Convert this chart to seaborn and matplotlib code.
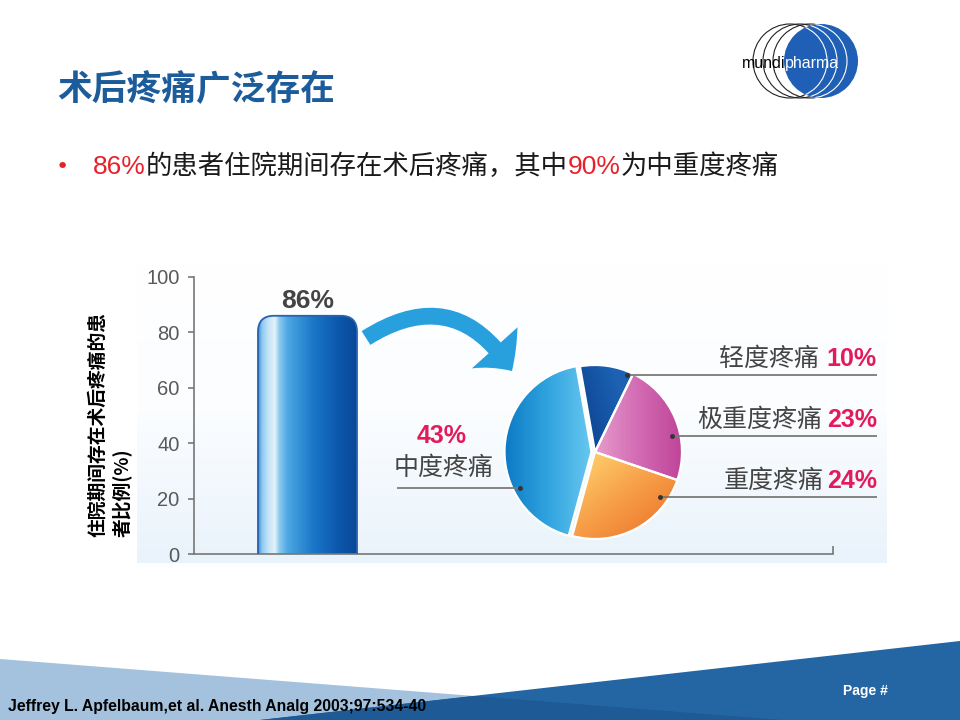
import numpy as np
import seaborn as sns
import matplotlib.pyplot as plt
from matplotlib import font_manager
from matplotlib.colors import LinearSegmentedColormap
from matplotlib.patches import FancyBboxPatch, Polygon, Circle, FancyArrowPatch
from matplotlib.transforms import Affine2D

W, H = 960, 720

# data
bar_cats = ['术后疼痛']
bar_vals = [86]
y_ticks = [0, 20, 40, 60, 80, 100]
pie_labels = ['轻度疼痛', '极重度疼痛', '重度疼痛', '中度疼痛']
pie_vals = [10, 23, 24, 43]
severe = sum(pie_vals[1:])  # 中重度 = 90

sns.set_theme(style='ticks')
plt.rcParams['font.family'] = ['Noto Sans CJK SC', 'DejaVu Sans']

names = {f.name for f in font_manager.fontManager.ttflist}
ARIAL = 'Liberation Sans'
HAS_NARROW = 'Liberation Sans Narrow' in names
NARROW = 'Liberation Sans Narrow' if HAS_NARROW else 'Liberation Sans'

RED = '#e8202a'
PINK = '#e31b5b'
GREY = '#444444'

fig = plt.figure(figsize=(9.6, 7.2), dpi=100)
fig.patch.set_facecolor('white')
# pixel coordinates, origin top-left
PX = Affine2D().scale(1 / W, -1 / H).translate(0, 1) + fig.transFigure

# background: chart panel and footer shapes
bg = fig.add_axes([0, 0, 1, 1], zorder=0)
panel_cmap = LinearSegmentedColormap.from_list('panel', ['#ffffff', '#fbfdff', '#e9f3fb'])
bg.imshow(np.linspace(0, 1, 200).reshape(-1, 1), extent=(137, 887, 563, 265),
          cmap=panel_cmap, aspect='auto', interpolation='bicubic')
bg.add_patch(Polygon([(0, 659), (782, 720), (0, 720)], closed=True, fc='#a4c1dd', ec='none'))
bg.add_patch(Polygon([(260, 720), (960, 641), (960, 720)], closed=True, fc='#2465a3', ec='none'))
bg.add_patch(Polygon([(260, 720), (474, 696), (782, 720)], closed=True, fc='#1d5a96', ec='none'))
bg.set_xlim(0, W)
bg.set_ylim(H, 0)
bg.axis('off')

# bar chart
ax = fig.add_axes([194 / W, 1 - 554 / H, (833 - 194) / W, (554 - 277) / H], zorder=2)
ax.patch.set_alpha(0)
sns.barplot(x=bar_cats, y=bar_vals, ax=ax, width=0.8, color='#1a78c8')
XLIM = (-0.917, 4.246)
ax.set_xlim(*XLIM)
ax.set_ylim(0, 100)

bar = ax.patches[0]
bx, bw, bh = bar.get_x(), bar.get_width(), bar.get_height()
bar.set_visible(False)
px_x = ax.bbox.width / (XLIM[1] - XLIM[0])
px_y = ax.bbox.height / 100
rad = 16 / px_x
shape = FancyBboxPatch((bx, -12), bw, bh + 12, boxstyle=f'round,pad=0,rounding_size={rad}',
                       mutation_aspect=px_x / px_y, fc='none', ec='#2a62ae', lw=1.3, zorder=3)
ax.add_patch(shape)
bar_cmap = LinearSegmentedColormap.from_list('bar', [
    (0.00, '#3d8fd6'), (0.04, '#8fcaf0'), (0.10, '#c4e3f7'), (0.17, '#e4f2fb'),
    (0.21, '#8fcbef'), (0.30, '#4ba6e2'), (0.55, '#1a78c8'), (0.80, '#0c58ad'),
    (1.00, '#0a4797')])
img = ax.imshow(np.linspace(0, 1, 256).reshape(1, -1), extent=(bx, bx + bw, 0, bh),
                cmap=bar_cmap, aspect='auto', zorder=2, interpolation='bicubic')
img.set_clip_path(shape)
ax.set_xlim(*XLIM)
ax.set_ylim(0, 100)

ax.bar_label(ax.containers[0], labels=[f'{v}%' for v in bar_vals], padding=2,
             fontsize=19, fontweight='bold', color=GREY, fontfamily=ARIAL)

ax.set_yticks(y_ticks)
ax.set_xticks([XLIM[1]])
ax.set_xticklabels([''])
ax.tick_params(axis='x', bottom=True, direction='in', length=6, width=1.2, color='#777777')
ax.tick_params(axis='y', left=True, direction='out', length=4.5, width=1.2, color='#777777',
               labelsize=14.5, labelcolor='#595959', pad=6)
for lbl in ax.get_yticklabels():
    lbl.set_fontfamily(ARIAL)
sns.despine(ax=ax)
for s in ['left', 'bottom']:
    ax.spines[s].set_color('#777777')
    ax.spines[s].set_linewidth(1.2)
ax.set_xlabel('')
ax.set_ylabel('住院期间存在术后疼痛的患\n者比例(%)', fontsize=13.5, fontweight='bold',
              color='black', multialignment='left', linespacing=1.3)
ax.yaxis.set_label_coords(-0.097, 0.469)

# pie chart
pax = fig.add_axes([(595 - 110) / W, 1 - (452 + 110) / H, 220 / W, 220 / H], zorder=3)
wedges, _ = pax.pie(pie_vals, startangle=100, counterclock=False, radius=0.87,
                    explode=[0, 0, 0, 0.035], wedgeprops=dict(ec='white', lw=1.6))
gx, gy = np.meshgrid(np.linspace(-1.1, 1.1, 300), np.linspace(-1.1, 1.1, 300))
grad_specs = [
    (['#073a86', '#1d62b4'], (1, 0.3), -0.25, 0.45),
    (['#e69ccd', '#d36bb3', '#bf4599'], (1, 0), 0.0, 0.87),
    (['#fdc463', '#f7a04a', '#ef8234'], (0.6, -0.8), 0.1, 0.9),
    (['#0b78c2', '#2fa3df', '#69c8f0'], (1, 0), -0.93, -0.03),
]
for w, (cols, d, lo, hi) in zip(wedges, grad_specs):
    cm = LinearSegmentedColormap.from_list('w', cols)
    im = pax.imshow(gx * d[0] + gy * d[1], extent=(-1.1, 1.1, -1.1, 1.1), origin='lower',
                    cmap=cm, vmin=lo, vmax=hi, zorder=1.5, interpolation='bicubic')
    im.set_clip_path(w)
    w.set_facecolor('none')
    w.set_zorder(2)
pax.set_xlim(-1.1, 1.1)
pax.set_ylim(-1.1, 1.1)
pax.set_aspect('equal')
pax.axis('off')

# overlay: arrow, leader lines, logo
ov = fig.add_axes([0, 0, 1, 1], zorder=5)
ov.patch.set_alpha(0)
ov.set_xlim(0, W)
ov.set_ylim(H, 0)
ov.axis('off')

ov.add_patch(FancyArrowPatch(posA=(366, 338), posB=(512, 371), connectionstyle='arc3,rad=-0.5',
                             arrowstyle='simple,head_length=1.6,head_width=3.4,tail_width=0.9',
                             mutation_scale=13, shrinkA=0, shrinkB=0, fc='#29a0de', ec='none'))

leader_right = [(627, 375), (672, 436), (660, 497)]
for (lx, ly) in leader_right:
    ov.plot([lx, 877], [ly, ly], color='#7a7a7a', lw=1.3, solid_capstyle='butt')
    ov.plot([lx], [ly], 'o', ms=2.5, color='#333333')
ov.plot([397, 520], [488, 488], color='#7a7a7a', lw=1.3, solid_capstyle='butt')
ov.plot([520], [488], 'o', ms=2.5, color='#333333')

# logo
for cx in [790, 800, 810]:
    ov.add_patch(Circle((cx, 61), 37, fill=False, ec='#222222', lw=0.8))
disc = Circle((821, 61), 37, fc='#1f5fb5', ec='none', zorder=3)
ov.add_patch(disc)
for cx in [790, 800, 810]:
    c = Circle((cx, 61), 37, fill=False, ec='white', lw=0.8, zorder=4)
    ov.add_patch(c)
    c.set_clip_path(disc)
logo_fs = 15 if HAS_NARROW else 11.5
ov.text(785, 68, 'mundi', ha='right', va='baseline', fontsize=logo_fs, fontfamily=NARROW,
        color='black', zorder=5)
ov.text(785, 68, 'pharma', ha='left', va='baseline', fontsize=logo_fs, fontfamily=NARROW,
        color='white', zorder=5)

renderer = fig.canvas.get_renderer()


def row(parts, x, y, ha='left'):
    # parts: (text, style, gap after) placed on one baseline
    ts = [fig.text(0, y, s, transform=PX, va='baseline', **kw) for s, kw, _ in parts]
    widths = [t.get_window_extent(renderer).width + g for t, (_, _, g) in zip(ts, parts)]
    cur = x - sum(widths) + parts[-1][2] if ha == 'right' else x
    for t, w in zip(ts, widths):
        t.set_x(cur)
        cur += w
    return ts


# title and bullet
fig.text(57, 90, '术后疼痛广泛存在', transform=PX, fontsize=25, fontweight='bold',
         color='#1d5c9a', va='center')
fig.text(62, 167, '•', transform=PX, fontsize=16, color=RED, ha='center', va='center',
         fontfamily='DejaVu Sans')
red_kw = dict(fontsize=19, color=RED, fontfamily=ARIAL)
blk_kw = dict(fontsize=19, color='#1a1a1a')
row([(f'{bar_vals[0]}%', red_kw, 0), ('的患者住院期间存在术后疼痛，其中', blk_kw, 0),
     (f'{severe}%', red_kw, 0), ('为中重度疼痛', blk_kw, 0)], 93, 174)

# pie labels
lab_kw = dict(fontsize=18, color=GREY)
pct_kw = dict(fontsize=18, color=PINK, fontweight='bold', fontfamily=ARIAL)
gaps = [8, 5, 3]
for i, (lx, ly) in enumerate(leader_right):
    row([(pie_labels[i], lab_kw, gaps[i]), (f'{pie_vals[i]}%', pct_kw, 0)], 877, ly - 9, ha='right')
fig.text(442, 436, f'{pie_vals[3]}%', transform=PX, ha='center', va='center', **pct_kw)
fig.text(444, 468, pie_labels[3], transform=PX, ha='center', va='center', **lab_kw)

# footer
foot_fs = 12.5 if HAS_NARROW else 11.3
fig.text(8, 711, 'Jeffrey L. Apfelbaum,et al. Anesth Analg 2003;97:534-40', transform=PX,
         va='baseline', fontsize=foot_fs, fontweight='bold', fontfamily=NARROW, color='black')
fig.text(843, 695, 'Page #', transform=PX, va='baseline', fontsize=10, fontweight='bold',
         fontfamily=ARIAL, color='white')

fig.savefig('out.png', dpi=100)
